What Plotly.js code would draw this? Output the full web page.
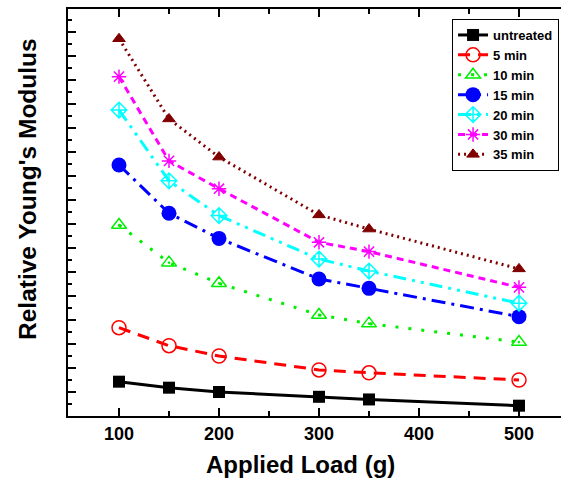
<!DOCTYPE html>
<html>
<head>
<meta charset="utf-8">
<script src="https://cdn.plot.ly/plotly-3.0.1.min.js"></script>
<style>html,body{margin:0;padding:0;background:#fff;overflow:hidden;}#chart{width:561px;height:490px;}</style>
</head>
<body>
<div id="chart"></div>
<script>
const loads = [100, 150, 200, 300, 350, 500];
const untreated = [1.43, 1.18, 1.00, 0.80, 0.69, 0.43];
const min5  = [3.68, 2.93, 2.50, 1.92, 1.80, 1.50];
const min10 = [7.96, 6.39, 5.53, 4.21, 3.85, 3.08];
const min15 = [10.46, 8.45, 7.40, 5.71, 5.32, 4.14];
const min20 = [12.75, 9.80, 8.35, 6.54, 6.04, 4.70];
const min30 = [14.14, 10.63, 9.47, 7.24, 6.85, 5.36];
const min35 = [15.72, 12.38, 10.79, 8.38, 7.79, 6.13];
const seriesNames = ['untreated', '5 min', '10 min', '15 min', '20 min', '30 min', '35 min'];
const xTickVals = [100, 200, 300, 400, 500];
const xTitle = 'Applied Load (g)';
const yTitle = "Relative Young's Modulus";

const styles = [
  {color:'#000000', dash:'solid', symbol:'square', size:12, mline:0},
  {color:'#ff0000', dash:'12px,8px', symbol:'circle-open', size:14, mline:1.5},
  {color:'#00ee00', dash:'3px,10px', symbol:'triangle-up-open-dot', size:13, mline:1.5},
  {color:'#0000ff', dash:'14px,6px,3px,6px', symbol:'circle', size:15, mline:0},
  {color:'#00ffff', dash:'13px,6px,3px,6px,3px,6px', symbol:'diamond-cross-open', size:12, mline:1.5},
  {color:'#ff00ff', dash:'7px,5px', symbol:'asterisk-open', size:12, mline:1.5},
  {color:'#800000', dash:'2px,4px', symbol:'triangle-up', size:11, mline:1}
];
const values = [untreated, min5, min10, min15, min20, min30, min35];

const traces = values.map((v, i) => ({
  x: loads, y: v, name: seriesNames[i], type: 'scatter', mode: 'lines+markers',
  line: {color: styles[i].color, width: 3, dash: styles[i].dash},
  marker: {symbol: styles[i].symbol, size: styles[i].size, color: styles[i].color,
           line: {color: styles[i].color, width: styles[i].mline}}
}));

const font = {family: 'Arial, "Liberation Sans", sans-serif', color: '#000'};
const layout = {
  width: 561, height: 490,
  margin: {l: 68, r: 0, t: 9, b: 74, autoexpand: false},
  paper_bgcolor: '#fff', plot_bgcolor: '#fff',
  showlegend: true,
  font: font,
  xaxis: {
    range: [49, 542], tickvals: xTickVals, ticktext: xTickVals.map(String),
    ticks: 'inside', ticklen: 8, tickwidth: 2, tickcolor: '#000',
    showline: true, linewidth: 2, linecolor: '#000', mirror: 'ticks',
    showgrid: false, zeroline: false,
    minor: {dtick: 50, tick0: 0, ticks: 'inside', ticklen: 5, tickwidth: 2, tickcolor: '#000', showgrid: false},
    tickfont: {family: font.family, size: 18, weight: 'bold', color: '#000'}
  },
  yaxis: {
    range: [0, 16.96], dtick: 1, tick0: 0, showticklabels: false,
    ticks: 'inside', ticklen: 8, tickwidth: 2, tickcolor: '#000',
    showline: true, linewidth: 2, linecolor: '#000', mirror: false,
    showgrid: false, zeroline: false,
    minor: {dtick: 0.5, tick0: 0, ticks: 'inside', ticklen: 4, tickwidth: 2, tickcolor: '#000', showgrid: false}
  },
  legend: {
    x: 0.779, y: 0.9754, xanchor: 'left', yanchor: 'top',
    bgcolor: '#fff', bordercolor: '#000', borderwidth: 1,
    font: {family: font.family, size: 13, weight: 'bold', color: '#000'},
    tracegroupgap: 0
  },
  annotations: [
    {text: xTitle, xref: 'paper', yref: 'paper', x: (300-68)/493, y: (416-464)/407,
     xanchor: 'center', yanchor: 'middle', showarrow: false,
     font: {family: font.family, size: 24, weight: 'bold', color: '#000'}},
    {text: yTitle, xref: 'paper', yref: 'paper', x: (27-68)/493, y: (416-189)/407,
     xanchor: 'center', yanchor: 'middle', showarrow: false, textangle: -90,
     font: {family: font.family, size: 24.5, weight: 'bold', color: '#000'}}
  ]
};
Plotly.newPlot('chart', traces, layout, {displayModeBar: false, staticPlot: true});
</script>
</body>
</html>
